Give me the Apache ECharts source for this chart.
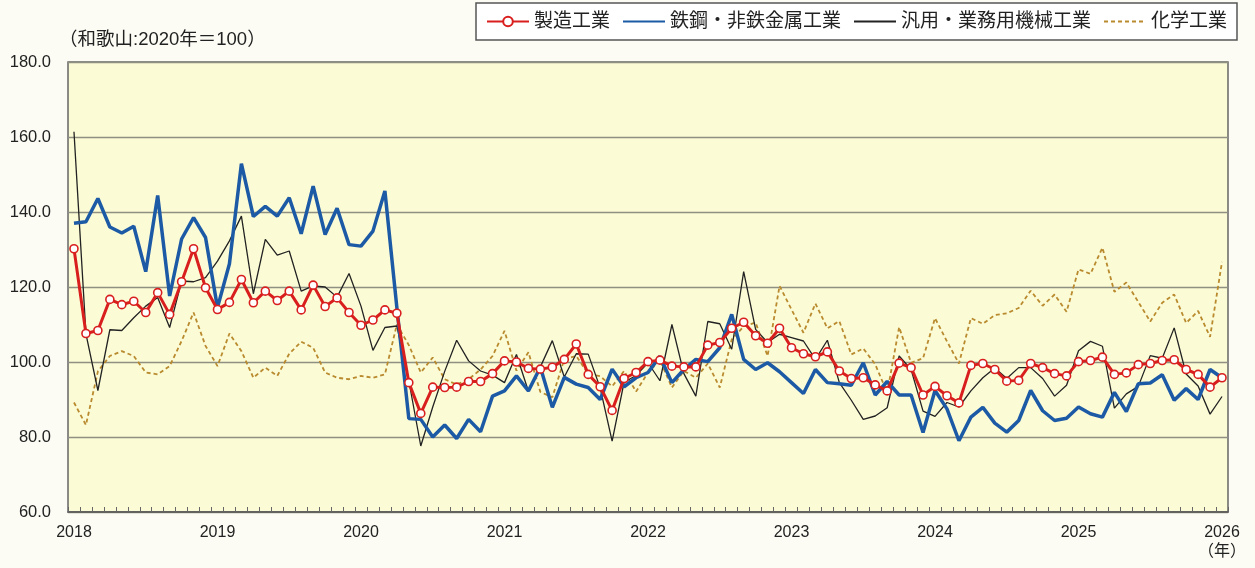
<!DOCTYPE html>
<html>
<head>
<meta charset="utf-8">
<script src="https://cdn.jsdelivr.net/npm/echarts@6/dist/echarts.min.js"></script>
<style>
html,body{margin:0;padding:0;background:#fcfcf4;}
#chart{width:1255px;height:568px;}
</style>
</head>
<body>
<div id="chart"></div>
<script>
// Year labels (January of each year) and monthly categories 2018-01 .. 2026-01
const yearLabels = ['2018','2019','2020','2021','2022','2023','2024','2025','2026'];
const yearUnit = '（年）';
const unitNote = '（和歌山:2020年＝100）';
const seriesNames = ['製造工業','鉄鋼・非鉄金属工業','汎用・業務用機械工業','化学工業'];
const yTicks = [60, 180, 20];

// 製造工業
const seizou = [
130.2,107.6,108.4,116.7,115.3,116.2,113.2,118.5,112.7,121.4,
130.2,119.8,114.0,115.9,122.0,115.8,118.9,116.4,118.9,113.9,
120.5,114.8,117.1,113.2,109.8,111.2,113.9,113.0,94.5,86.3,
93.3,93.2,93.3,94.8,94.8,96.9,100.3,100.0,98.3,98.1,
98.6,100.7,104.8,96.7,93.4,87.1,95.6,97.2,100.1,100.5,
98.9,98.7,98.7,104.5,105.2,109.0,110.6,107.0,105.0,109.0,
103.8,102.2,101.4,102.7,97.6,95.6,95.8,93.9,92.3,99.7,
98.5,91.2,93.5,91.0,89.1,99.1,99.6,98.0,94.9,95.1,
99.6,98.5,96.9,96.3,100.1,100.4,101.3,96.7,97.1,99.3,
99.6,100.4,100.6,98.0,96.7,93.3,95.8];

// 鉄鋼・非鉄金属工業
const tekkou = [
137.0,137.4,143.6,136.0,134.4,136.2,124.1,144.4,117.6,132.8,
138.5,133.2,114.5,126.2,152.9,138.8,141.5,138.9,143.8,134.2,
146.9,134.0,141.0,131.3,130.9,134.9,145.6,114.5,84.9,84.7,
80.0,83.2,79.6,84.7,81.4,90.9,92.3,96.3,92.3,98.6,
87.9,95.9,94.1,93.2,90.0,98.1,93.4,95.8,97.2,101.5,
94.5,98.0,100.7,100.1,103.8,112.7,100.7,98.0,99.8,97.4,
94.5,91.6,98.0,94.5,94.2,93.8,99.8,91.2,94.8,91.2,
91.2,81.2,92.4,87.5,79.0,85.3,87.9,83.7,81.3,84.4,
92.4,87.0,84.4,85.0,88.0,86.2,85.3,91.9,86.8,94.2,
94.4,96.6,89.8,92.9,90.0,98.0,95.8];

// 汎用・業務用機械工業
const kikai = [
161.4,107.5,92.4,108.6,108.4,111.8,114.9,117.2,109.2,121.6,
121.4,122.5,126.9,132.3,138.9,118.2,132.7,128.5,129.6,118.9,
120.3,120.0,117.3,123.6,114.9,103.1,109.2,109.6,95.0,77.6,
88.0,97.5,105.8,100.3,97.6,96.5,94.5,102.0,92.2,98.7,
105.7,96.0,102.2,102.1,93.1,78.9,94.6,96.4,99.8,95.0,
110.0,96.9,90.9,110.8,110.2,103.4,124.1,108.7,105.2,107.4,
106.5,105.6,100.7,105.8,94.5,89.8,84.7,85.6,87.8,101.6,
98.0,86.9,85.5,89.2,88.0,92.3,95.8,98.4,95.6,98.5,
98.5,95.6,90.9,93.8,103.0,105.5,104.2,87.7,91.5,93.5,
101.7,101.0,109.1,96.8,93.6,86.1,90.8];

// 化学工業
const kagaku = [
89.2,83.2,97.5,101.6,102.9,101.6,97.2,96.7,98.9,105.6,
113.2,104.3,98.9,107.6,102.9,95.8,98.5,96.3,102.2,105.4,
103.8,97.2,95.8,95.4,96.3,95.8,96.7,110.0,104.5,97.2,
101.2,95.4,94.0,95.4,98.0,101.6,108.3,97.7,102.6,92.0,
90.6,100.7,101.6,96.8,96.2,93.5,97.6,92.1,97.2,100.5,
93.2,97.6,95.8,99.6,93.2,106.0,109.5,110.5,101.6,120.3,
114.0,107.8,115.6,109.0,110.9,102.0,103.6,99.4,91.8,109.3,
99.8,101.0,111.7,105.5,99.6,111.7,110.2,112.5,113.0,114.4,
119.0,115.0,118.0,113.4,124.7,123.5,130.5,118.7,121.2,116.0,
110.8,115.8,118.0,110.4,113.6,106.7,126.7];

const months = [];
yearLabels.forEach(function (y, yi) {
  const n = (yi === yearLabels.length - 1) ? 1 : 12;
  for (let m = 1; m <= n; m++) months.push(y + '-' + (m < 10 ? '0' + m : m));
});

const FONT = "'Liberation Sans','Noto Sans CJK JP',sans-serif";
const chart = echarts.init(document.getElementById('chart'), null, {renderer: 'canvas'});
const hideSym = {color: 'rgba(0,0,0,0)', borderColor: 'rgba(0,0,0,0)', borderWidth: 0};

chart.setOption({
  backgroundColor: '#fcfcf4',
  animation: false,
  textStyle: {fontFamily: FONT, color: '#222'},
  graphic: [{
    type: 'text', left: 59, top: 31,
    style: {text: unitNote, font: '18.5px ' + FONT, fill: '#222'}
  }],
  legend: {
    data: [
      {name: seriesNames[0]},
      {name: seriesNames[1], itemStyle: hideSym},
      {name: seriesNames[2], itemStyle: hideSym},
      {name: seriesNames[3], itemStyle: hideSym}
    ],
    left: 476, top: 3,
    padding: [9, 10, 9, 10],
    itemWidth: 42, itemHeight: 12, itemGap: 12,
    backgroundColor: '#ffffff',
    borderColor: '#555', borderWidth: 1.5, borderRadius: 0,
    textStyle: {fontSize: 19, color: '#222', fontFamily: FONT}
  },
  grid: {
    left: 68, right: 27, top: 62, bottom: 56,
    show: true, backgroundColor: '#fbfbd6',
    borderColor: '#666', borderWidth: 1.5
  },
  xAxis: {
    type: 'category', data: months, boundaryGap: true,
    axisLine: {show: true, lineStyle: {color: '#555', width: 1.5}},
    axisTick: {show: true, inside: true, interval: 0, length: 5, lineStyle: {color: '#666', width: 1}},
    axisLabel: {
      interval: function (idx) { return idx % 12 === 0; },
      formatter: function (val, idx) {
        const y = val.slice(0, 4);
        return idx === months.length - 1 ? y + '\n' + yearUnit : y;
      },
      fontSize: 16, color: '#222', margin: 11, lineHeight: 19, fontFamily: FONT
    },
    splitLine: {show: false}
  },
  yAxis: {
    type: 'value', min: yTicks[0], max: yTicks[1], interval: yTicks[2],
    axisLine: {show: false}, axisTick: {show: false},
    axisLabel: {formatter: function (v) { return v.toFixed(1); }, fontSize: 16.5, color: '#222', margin: 17, fontFamily: FONT},
    splitLine: {show: true, lineStyle: {color: '#8e9082', width: 1.3}}
  },
  series: [
    {
      name: seriesNames[3], type: 'line', data: kagaku, symbol: 'none', z: 2,
      lineStyle: {color: '#b98a2e', width: 1.8, type: [4, 3]}, itemStyle: {color: '#b98a2e'}
    },
    {
      name: seriesNames[2], type: 'line', data: kikai, symbol: 'none', z: 3,
      lineStyle: {color: '#222', width: 1.3}, itemStyle: {color: '#222'}
    },
    {
      name: seriesNames[1], type: 'line', data: tekkou, symbol: 'none', z: 4,
      lineStyle: {color: '#1d5aa6', width: 3.5}, itemStyle: {color: '#1d5aa6'}
    },
    {
      name: seriesNames[0], type: 'line', data: seizou, z: 5,
      symbol: 'circle', symbolSize: 8, showSymbol: true, showAllSymbol: true,
      lineStyle: {color: '#d91e1e', width: 3},
      itemStyle: {color: '#ffffff', borderColor: '#d91e1e', borderWidth: 1.6}
    }
  ]
});
</script>
</body>
</html>
